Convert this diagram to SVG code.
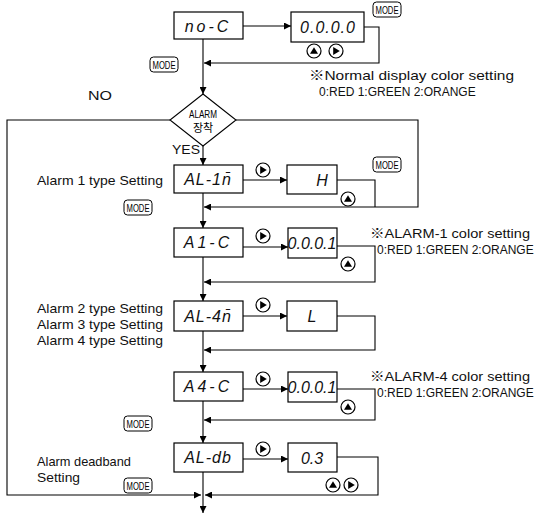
<svg xmlns="http://www.w3.org/2000/svg" width="546" height="515" viewBox="0 0 546 515">
<defs>
<marker id="ah" viewBox="0 0 10 10" refX="10" refY="5" markerWidth="7" markerHeight="7" markerUnits="userSpaceOnUse" orient="auto">
<path d="M0,0 L10,5 L0,10 z" fill="#000"/>
</marker>
<g id="mode">
<rect x="0" y="0" width="28" height="15" rx="3.5" fill="#fff" stroke="#000" stroke-width="1"/>
<text x="14" y="11.5" font-size="11" text-anchor="middle" textLength="23" lengthAdjust="spacingAndGlyphs" font-family="Liberation Sans, Arial, sans-serif">MODE</text>
</g>
<g id="up">
<circle cx="0" cy="0" r="7" fill="#fff" stroke="#000" stroke-width="1.2"/>
<path d="M-4,2.8 L4,2.8 L0,-3.8 z" fill="#000"/>
</g>
<g id="right">
<circle cx="0" cy="0" r="7" fill="#fff" stroke="#000" stroke-width="1.2"/>
<path d="M-2.8,-4 L-2.8,4 L3.8,0 z" fill="#000"/>
</g>
</defs>
<style>
.box{fill:#fff;stroke:#000;stroke-width:1.2}
.seg{font-family:"Liberation Sans",Arial,sans-serif;font-style:italic;font-size:16px;fill:#111;text-anchor:middle}
.lbl{font-family:"Liberation Sans",Arial,sans-serif;font-size:13.5px;fill:#111}
.note{font-family:"Liberation Sans","Noto Sans CJK KR",sans-serif;font-size:13.5px;fill:#111}
.col{font-family:"Liberation Sans",Arial,sans-serif;font-size:12px;fill:#111}
.ln{fill:none;stroke:#000;stroke-width:1.1}
</style>
<rect width="546" height="515" fill="#fff"/>

<g id="connectors">
<path class="ln" d="M243,26 H291" marker-end="url(#ah)"/>
<path class="ln" d="M364,27 H379 V63 H204" marker-end="url(#ah)"/>
<path class="ln" d="M203,39 V94" marker-end="url(#ah)"/>
<path class="ln" d="M170,120 H7 V495 H201" marker-end="url(#ah)"/>
<path class="ln" d="M236,120 H418 V207 H204" marker-end="url(#ah)"/>
<path class="ln" d="M203,146 V165" marker-end="url(#ah)"/>
<path class="ln" d="M243,180 H287" marker-end="url(#ah)"/>
<path class="ln" d="M337,180 H375 V207"/>
<path class="ln" d="M203,193 V228" marker-end="url(#ah)"/>
<path class="ln" d="M243,247 H288" marker-end="url(#ah)"/>
<path class="ln" d="M337,246 H375 V282 H204" marker-end="url(#ah)"/>
<path class="ln" d="M203,257 V301" marker-end="url(#ah)"/>
<path class="ln" d="M243,316 H287" marker-end="url(#ah)"/>
<path class="ln" d="M337,316 H375 V350 H204" marker-end="url(#ah)"/>
<path class="ln" d="M203,331 V372" marker-end="url(#ah)"/>
<path class="ln" d="M243,389 H288" marker-end="url(#ah)"/>
<path class="ln" d="M337,389 H375 V420 H204" marker-end="url(#ah)"/>
<path class="ln" d="M203,401 V443" marker-end="url(#ah)"/>
<path class="ln" d="M243,459 H288" marker-end="url(#ah)"/>
<path class="ln" d="M337,457 H378 V495 H205" marker-end="url(#ah)"/>
<path class="ln" d="M203,472 V513" marker-end="url(#ah)"/>
</g>

<g id="n-noC"><rect class="box" x="174" y="12" width="69" height="27"/><text class="seg" x="208" y="32" letter-spacing="3">no-C</text></g>
<g id="n-normal"><rect class="box" x="291" y="12" width="73" height="30"/><text class="seg" x="328" y="33" letter-spacing="1">0.0.0.0</text>
<use href="#up" x="314" y="51"/><use href="#right" x="336" y="51"/></g>
<use href="#mode" x="373" y="2"/>
<use href="#mode" x="150" y="57"/>
<text class="note" x="309" y="80" textLength="205" lengthAdjust="spacingAndGlyphs">※Normal display color setting</text>
<text class="col" x="319" y="96">0:RED  1:GREEN 2:ORANGE</text>

<g id="n-alarm"><path d="M203,94 L236,120 L203,146 L170,120 z" fill="#fff" stroke="#000" stroke-width="1.1"/>
<text x="203" y="118" font-family="Liberation Sans, Arial, sans-serif" font-size="11" text-anchor="middle" textLength="28" lengthAdjust="spacingAndGlyphs">ALARM</text>
<text x="203" y="132" font-family="Noto Sans CJK KR, sans-serif" font-size="11" text-anchor="middle">장착</text></g>
<text class="lbl" x="88" y="100" textLength="24" lengthAdjust="spacingAndGlyphs">NO</text>
<text class="lbl" x="172" y="154" textLength="28" lengthAdjust="spacingAndGlyphs">YES</text>

<text class="lbl" x="37" y="185" textLength="126" lengthAdjust="spacingAndGlyphs">Alarm 1 type Setting</text>
<g id="n-al1"><rect class="box" x="174" y="165" width="69" height="28"/><text class="seg" x="208" y="185" letter-spacing="1">AL-1n̄</text></g>
<use href="#right" x="263" y="170"/>
<g id="n-H"><rect class="box" x="287" y="165" width="50" height="29"/><text class="seg" x="322" y="186">H</text></g>
<use href="#up" x="348" y="199"/>
<use href="#mode" x="373" y="157"/>
<use href="#mode" x="124" y="200"/>

<g id="n-a1c"><rect class="box" x="174" y="228" width="69" height="29"/><text class="seg" x="208" y="248" letter-spacing="3">A1-C</text></g>
<use href="#right" x="263" y="236"/>
<g id="n-a1v"><rect class="box" x="288" y="228" width="49" height="30"/><text class="seg" x="312" y="249">0.0.0.1</text></g>
<use href="#up" x="348" y="264"/>
<text class="note" x="370" y="238" textLength="160" lengthAdjust="spacingAndGlyphs">※ALARM-1 color setting</text>
<text class="col" x="377" y="254">0:RED  1:GREEN 2:ORANGE</text>

<text class="lbl" x="37" y="313" textLength="126" lengthAdjust="spacingAndGlyphs">Alarm 2 type Setting</text>
<text class="lbl" x="37" y="329" textLength="126" lengthAdjust="spacingAndGlyphs">Alarm 3 type Setting</text>
<text class="lbl" x="37" y="345" textLength="126" lengthAdjust="spacingAndGlyphs">Alarm 4 type Setting</text>
<g id="n-al4"><rect class="box" x="174" y="301" width="69" height="30"/><text class="seg" x="208" y="322" letter-spacing="1">AL-4n̄</text></g>
<use href="#right" x="263" y="305"/>
<g id="n-L"><rect class="box" x="287" y="301" width="50" height="30"/><text class="seg" x="312" y="322">L</text></g>

<g id="n-a4c"><rect class="box" x="174" y="372" width="69" height="29"/><text class="seg" x="208" y="392" letter-spacing="3">A4-C</text></g>
<use href="#right" x="263" y="379"/>
<g id="n-a4v"><rect class="box" x="288" y="372" width="49" height="30"/><text class="seg" x="312" y="393">0.0.0.1</text></g>
<use href="#up" x="348" y="407"/>
<text class="note" x="370" y="381" textLength="160" lengthAdjust="spacingAndGlyphs">※ALARM-4 color setting</text>
<text class="col" x="377" y="397">0:RED  1:GREEN 2:ORANGE</text>
<use href="#mode" x="124" y="416"/>

<text class="lbl" x="37" y="466" textLength="94" lengthAdjust="spacingAndGlyphs">Alarm deadband</text>
<text class="lbl" x="37" y="482" textLength="43" lengthAdjust="spacingAndGlyphs">Setting</text>
<g id="n-aldb"><rect class="box" x="174" y="443" width="69" height="29"/><text class="seg" x="208" y="463" letter-spacing="1">AL-db</text></g>
<use href="#right" x="263" y="449"/>
<g id="n-db"><rect class="box" x="288" y="443" width="49" height="29"/><text class="seg" x="312" y="464">0.3</text></g>
<use href="#up" x="333" y="485"/><use href="#right" x="351" y="485"/>
<use href="#mode" x="124" y="478"/>
</svg>
